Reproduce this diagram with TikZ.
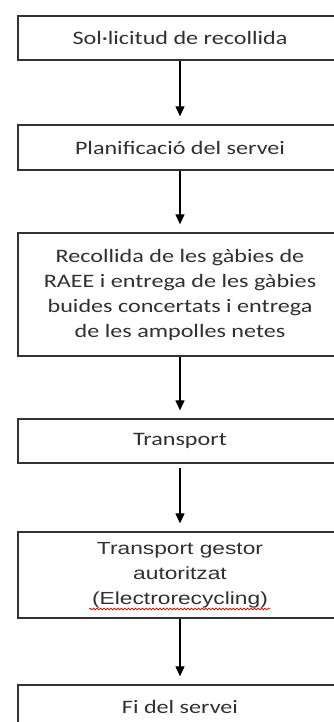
\documentclass[tikz,border=0pt]{standalone}
\usepackage{fontspec}
\newfontfamily\calfont[FakeStretch=1.27]{Carlito}
\newfontfamily\arifont[FakeStretch=1.3]{Liberation Sans}
\usetikzlibrary{arrows.meta,decorations.pathmorphing}
\definecolor{boxline}{HTML}{333333}
\definecolor{txt}{HTML}{303030}
\begin{document}
\begin{tikzpicture}[x=1pt,y=1pt,
  stepbox/.style={draw=boxline,line width=1.3pt,rectangle,minimum width=324pt,
    inner sep=0pt,align=center,text=txt,
    font=\calfont\fontsize{19}{25}\selectfont},
  flow/.style={draw=black,line width=1.2pt,-{Triangle[length=10pt,width=9pt]},shorten >=8pt}]
\useasboundingbox (0,0) rectangle (334,-722);
\clip (0,0) rectangle (334,-722);
\fill[white] (0,0) rectangle (334,-722);
\node[stepbox,minimum height=44pt] (s1) at (180,-38) {Sol·licitud de recollida};
\node[stepbox,minimum height=45pt] (s2) at (180,-147.5) {Planificació del servei};
\node[stepbox,minimum height=123pt] (s3) at (180,-294.5) {Recollida de les gàbies de\\RAEE i entrega de les gàbies\\buides concertats i entrega\\de les ampolles netes};
\node[stepbox,minimum height=44pt] (s4) at (180,-441) {Transport};
\node[stepbox,minimum height=86pt,font=\arifont\fontsize{17.5}{25}\selectfont] (s5) at (180,-575) {Transport gestor\\autoritzat\\(Electrorecycling)};
\node[stepbox,minimum height=44pt] (s6) at (180,-707) {Fi del servei};
\draw[flow] (s1) -- (s2);
\draw[flow] (s2) -- (s3);
\draw[flow] (s3) -- (s4);
\draw[flow,shorten <=4pt] (s4) -- (s5);
\draw[flow] (s5) -- (s6);
\coordinate (sqa) at (89,-609);
\coordinate (sqb) at (270,-609);
\draw[red!85!black,line width=0.7pt,decorate,decoration={snake,amplitude=0.9pt,segment length=3.5pt}] (sqa) -- (sqb);
\end{tikzpicture}
\end{document}
